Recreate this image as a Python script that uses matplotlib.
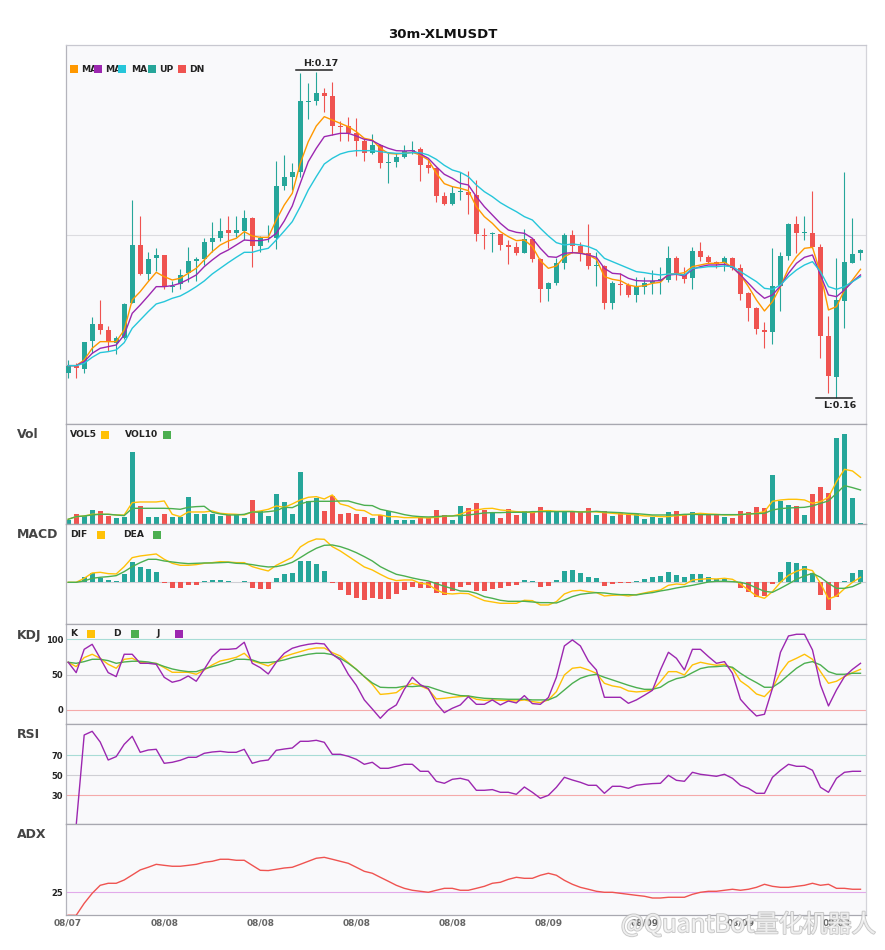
import numpy as np
import matplotlib
matplotlib.use("Agg")
import matplotlib.pyplot as plt
from matplotlib.patches import Rectangle
import matplotlib.patheffects as pe

# ---------------- data (30m candles, XLM/USDT) ----------------
open_ = [16099,16121,16113,16197,16247,16229,16191,16204,16311,16484,
         16397,16446,16454,16359,16367,16399,16437,16442,16493,16505,
         16529,16521,16526,16565,16481,16505,16505,16661,16688,16703,
         16913,16916,16940,16931,16841,16841,16819,16797,16761,16784,
         16730,16733,16748,16766,16772,16724,16715,16631,16607,16643,
         16643,16634,16514,16516,16517,16484,16478,16460,16502,16442,
         16353,16371,16430,16514,16481,16460,16421,16421,16310,16368,
         16364,16334,16359,16370,16376,16379,16445,16397,16385,16466,
         16448,16433,16430,16445,16415,16340,16295,16229,16223,16361,
         16451,16547,16519,16520,16478,16211,16088,16316,16430,16461]
high = [16139,16129,16193,16269,16319,16241,16211,16309,16619,16571,
        16463,16475,16454,16377,16412,16478,16447,16504,16554,16565,
        16571,16571,16589,16569,16511,16544,16736,16754,16730,16999,
        16970,17004,16955,16973,16856,16868,16865,16801,16817,16787,
        16761,16761,16784,16796,16778,16739,16719,16643,16661,16703,
        16706,16679,16535,16523,16517,16499,16493,16532,16504,16445,
        16374,16445,16520,16529,16493,16547,16463,16424,16376,16400,
        16370,16389,16388,16409,16419,16481,16451,16418,16478,16493,
        16454,16436,16451,16449,16427,16343,16297,16253,16475,16463,
        16550,16571,16571,16646,16487,16271,16445,16703,16565,16472]
low = [16086,16086,16101,16159,16217,16167,16156,16201,16309,16394,
       16379,16407,16353,16344,16353,16374,16377,16424,16463,16495,
       16475,16509,16499,16419,16463,16493,16472,16649,16649,16689,
       16862,16904,16883,16814,16797,16797,16751,16736,16757,16715,
       16670,16718,16745,16757,16676,16700,16613,16604,16604,16619,
       16577,16497,16472,16463,16469,16427,16454,16460,16433,16314,
       16317,16365,16412,16460,16436,16412,16361,16293,16293,16333,
       16329,16314,16337,16337,16337,16373,16379,16370,16352,16436,
       16430,16415,16406,16409,16319,16256,16217,16175,16187,16286,
       16439,16460,16499,16475,16145,16040,16025,16235,16430,16439]
close = [16122,16114,16193,16247,16229,16193,16204,16307,16484,16397,
         16442,16454,16357,16362,16394,16436,16441,16493,16505,16526,
         16521,16529,16565,16481,16505,16509,16661,16688,16703,16916,
         16916,16940,16932,16841,16838,16819,16797,16761,16784,16730,
         16733,16748,16766,16769,16724,16715,16631,16607,16640,16646,
         16635,16518,16511,16520,16484,16479,16460,16502,16442,16353,
         16371,16430,16514,16481,16460,16421,16424,16310,16370,16365,
         16334,16361,16370,16376,16382,16445,16400,16382,16466,16448,
         16433,16427,16445,16415,16337,16295,16232,16223,16361,16451,
         16547,16520,16522,16478,16211,16091,16319,16433,16457,16469]
ma5 = [16122,16122,16139,16174,16194,16194,16194,16229,16319,16344,
       16374,16402,16389,16379,16384,16399,16414,16439,16464,16484,
       16496,16504,16524,16511,16507,16507,16559,16604,16639,16729,
       16794,16841,16869,16859,16849,16839,16824,16804,16799,16774,
       16759,16757,16759,16762,16754,16739,16699,16668,16659,16654,
       16647,16599,16569,16549,16524,16509,16497,16499,16479,16437,
       16414,16421,16449,16461,16461,16454,16441,16389,16381,16377,
       16364,16359,16362,16369,16372,16397,16397,16401,16419,16424,
       16429,16429,16432,16417,16394,16359,16319,16286,16314,16359,
       16414,16449,16474,16477,16399,16289,16299,16349,16379,16411]
ma10 = [16122,16122,16134,16159,16174,16179,16184,16214,16279,16304,
        16331,16359,16359,16362,16369,16381,16394,16419,16439,16457,
        16469,16484,16499,16497,16497,16501,16519,16556,16601,16669,
        16734,16774,16809,16814,16819,16819,16811,16801,16797,16784,
        16774,16767,16766,16767,16757,16744,16719,16696,16684,16669,
        16664,16629,16599,16574,16549,16529,16522,16519,16504,16474,
        16449,16447,16459,16461,16459,16454,16447,16414,16399,16397,
        16384,16377,16376,16376,16377,16394,16396,16391,16411,16419,
        16424,16424,16426,16417,16394,16369,16344,16324,16334,16361,
        16399,16429,16447,16454,16394,16334,16329,16349,16374,16394]
ma20 = [16122,16122,16129,16147,16161,16164,16169,16191,16234,16259,
        16284,16307,16314,16324,16331,16344,16359,16376,16397,16414,
        16431,16447,16462,16462,16469,16474,16499,16526,16554,16599,
        16649,16689,16727,16744,16757,16764,16767,16767,16767,16764,
        16761,16759,16759,16761,16761,16754,16741,16723,16709,16702,
        16689,16664,16644,16629,16611,16597,16584,16569,16559,16534,
        16511,16491,16484,16487,16484,16479,16469,16444,16434,16424,
        16414,16404,16401,16397,16394,16397,16397,16394,16414,16416,
        16419,16419,16421,16419,16404,16389,16374,16354,16351,16364,
        16389,16409,16424,16434,16404,16359,16351,16359,16374,16389]
# volume (thousand XLM)
vol = [13,30,25,43,40,25,19,22,217,55,
       22,22,31,22,22,82,31,31,31,25,
       28,31,19,73,40,25,91,67,31,157,
       70,80,40,85,31,34,31,22,19,28,
       40,13,13,13,22,19,43,28,13,55,
       49,64,43,37,19,46,28,40,37,52,
       43,37,37,40,37,49,28,40,25,34,
       31,31,16,22,19,37,40,28,37,31,
       28,31,22,19,40,37,52,49,148,70,
       58,55,28,91,112,94,259,271,79,4]
vol5 = [15,23,25,30,30,30,28,28,65,67,
        67,67,70,30,23,37,37,37,40,33,
        31,30,28,37,40,45,55,51,61,73,
        81,83,76,88,61,55,43,41,28,28,
        23,23,20,20,20,19,21,24,25,30,
        40,43,47,48,43,41,38,37,35,40,
        41,39,39,39,37,39,37,35,33,31,
        30,28,25,25,23,23,26,28,31,33,
        31,30,28,28,29,31,33,38,69,73,
        75,75,73,63,68,81,128,165,160,141]
vol10 = [15,23,25,28,30,30,28,26,48,48,
         48,48,48,47,45,51,53,54,36,31,
         28,28,30,37,36,38,41,51,50,61,
         68,69,69,69,70,70,63,57,56,45,
         40,35,29,25,23,22,23,25,25,26,
         28,31,34,35,35,36,36,36,38,38,
         38,38,38,38,37,37,39,37,36,35,
         33,32,30,28,28,28,28,30,30,29,
         29,29,29,29,29,31,32,33,43,47,
         49,50,51,55,63,70,93,116,110,103]
# MACD (x1e-6)
dif = [0,0,12,28,30,26,25,47,74,79,
       82,85,69,57,51,51,53,57,59,62,
       61,59,59,47,40,34,51,63,75,106,
       121,130,129,107,94,78,62,46,37,24,
       12,5,7,7,-3,-6,-23,-33,-35,-33,
       -34,-45,-55,-59,-63,-63,-63,-54,-55,-68,
       -68,-58,-35,-26,-24,-28,-31,-41,-39,-38,
       -41,-37,-32,-27,-23,-9,-5,-7,7,9,
       11,10,12,9,-5,-23,-41,-48,-28,0,
       21,33,41,35,-3,-50,-41,-19,0,15]
dea = [0,0,4,12,15,17,20,32,47,59,
       69,69,64,61,58,56,57,58,58,59,
       60,57,56,53,49,46,47,52,60,74,
       89,102,111,112,107,99,89,77,64,47,
       35,24,19,13,8,4,-4,-12,-19,-26,
       -27,-33,-43,-48,-54,-57,-57,-57,-59,-61,
       -61,-62,-53,-43,-36,-33,-31,-32,-35,-37,
       -37,-38,-34,-31,-26,-22,-17,-13,-9,-4,
       1,3,3,2,0,-6,-17,-27,-30,-18,
       -5,9,19,27,15,-3,-18,-18,-13,-2]
hist = [0,0,16,28,13,7,3,26,60,46,
        40,31,-2,-16,-16,-7,-7,4,6,6,
        3,0,3,-16,-19,-19,13,25,28,64,
        64,55,34,-2,-22,-37,-46,-52,-46,-49,
        -49,-34,-22,-13,-16,-16,-31,-37,-25,-13,
        -7,-25,-25,-19,-16,-10,-7,6,3,-13,
        -10,6,33,36,27,16,13,-10,-4,-2,
        -2,3,9,16,19,31,22,16,25,25,
        16,9,10,4,-16,-28,-43,-40,-4,31,
        61,58,49,28,-37,-82,-43,4,28,37]
k_line = [67.5,61.3,74.1,78.8,73.1,64.6,59.0,71.7,73.1,67.5,
          66.0,66.0,59.9,53.3,53.3,53.3,50.5,56.6,63.7,69.3,
          71.7,74.5,80.2,69.3,66.0,62.3,68.4,75.5,79.2,82.5,
          85.8,87.7,87.7,81.1,76.4,67.0,57.5,47.2,36.3,22.0,
          23.0,24.5,33.0,37.7,34.0,29.2,15.6,16.5,17.9,18.9,
          19.8,15.1,13.7,14.2,13.7,13.2,12.7,14.2,11.8,10.4,
          14.2,25.9,49.5,59.0,60.4,56.6,51.9,37.7,34.0,32.1,
          26.9,25.5,26.4,28.3,40.1,54.2,54.2,49.5,63.7,67.5,
          65.1,63.2,64.6,59.0,41.0,33.0,22.6,18.9,30.7,52.8,
          67.9,73.1,78.8,71.7,54.2,37.7,40.6,47.2,52.8,57.5]
d_line = [67.5,66.0,68.4,71.7,71.7,69.8,66.0,67.9,68.9,68.9,
          67.9,65.6,61.5,58.0,55.7,54.2,54.2,58.0,61.3,64.6,
          67.5,71.7,71.7,70.8,67.0,67.0,68.4,70.8,74.1,76.4,
          78.8,80.2,80.2,78.3,73.1,66.0,57.5,47.2,38.2,32.1,
          31.6,31.6,33.5,33.0,34.0,33.0,29.2,25.5,22.6,20.3,
          19.8,17.9,16.5,16.0,15.6,15.1,15.1,15.1,14.2,14.2,
          14.2,18.9,28.3,37.7,44.8,48.6,50.5,46.2,42.5,38.7,
          34.9,31.6,29.2,29.2,32.1,39.6,44.3,46.7,52.8,58.5,
          60.8,61.3,62.3,60.4,51.9,44.8,38.7,32.1,32.1,39.6,
          49.5,59.0,66.0,68.4,63.7,54.2,50.5,50.5,51.9,51.9]
j_line = [67.5,52.8,85.8,92.9,73.1,52.8,47.2,78.8,78.8,66.0,
          66.0,64.6,46.2,39.2,42.0,48.1,40.6,57.5,75.5,85.8,
          85.8,86.8,95.8,66.0,59.9,50.9,67.5,80.2,87.3,90.6,
          92.9,94.3,93.4,78.8,70.8,50.5,34.9,14.2,1.4,-11.8,
          0.0,7.1,29.2,46.2,35.8,30.2,9.4,-3.8,2.4,7.1,
          18.9,8.0,8.0,14.2,7.1,12.7,9.9,20.3,9.0,8.0,
          17.5,46.2,90.6,99.1,90.6,69.3,56.6,17.9,17.9,17.9,
          9.4,14.2,20.8,27.8,56.6,81.6,73.1,56.6,85.8,85.8,
          75.5,66.0,68.4,51.9,15.1,2.4,-8.5,-6.1,30.7,81.6,
          104.7,107.1,107.1,84.9,35.4,5.7,28.3,47.2,57.5,66.0]
rsi = [np.nan,0,90.3,94.0,83.3,65.3,68.7,81.0,89.0,73.0,
       75.3,76.0,62.0,63.0,65.0,68.0,68.0,72.0,73.3,74.0,
       73.0,73.0,76.0,62.0,64.3,65.3,75.0,76.3,77.3,84.0,
       84.0,85.0,83.0,71.0,71.0,69.0,66.0,61.0,63.0,57.0,
       57.0,59.0,61.0,61.0,54.0,54.0,44.0,42.0,46.0,47.0,
       45.0,35.0,35.0,35.7,33.0,33.0,31.0,38.3,33.0,27.0,
       30.0,38.0,48.0,45.3,43.0,40.0,40.0,32.0,39.0,39.0,
       37.0,40.0,41.0,41.7,42.0,50.0,45.0,44.0,53.0,51.0,
       50.0,49.0,51.0,47.0,40.0,37.0,32.0,32.0,48.0,55.0,
       61.0,59.0,59.0,55.0,38.0,33.0,47.0,53.0,54.0,54.0]
adx = [0,0,13.0,23.9,32.6,34.8,34.8,38.4,43.8,49.3,
       52.2,55.4,54.3,53.3,53.3,54.3,55.4,57.6,58.7,60.9,
       60.9,59.8,59.8,54.3,48.9,48.6,50.0,51.4,52.2,55.4,
       58.7,62.0,63.0,60.9,58.7,56.5,52.2,47.8,45.7,41.3,
       37.0,32.6,29.3,27.2,26.1,25.0,27.2,29.3,29.3,27.2,
       27.2,29.3,31.5,34.8,35.9,39.1,41.3,40.2,40.2,43.5,
       45.7,43.5,38.0,33.7,30.4,28.3,26.1,25.0,25.0,23.9,
       22.8,21.7,20.7,18.8,18.8,19.6,19.6,19.6,22.8,25.0,
       26.1,26.1,27.2,28.3,27.2,28.3,30.4,33.7,31.5,30.4,
       30.4,31.5,32.6,34.8,32.6,33.7,29.3,29.3,28.3,28.3]
date_labels = ["08/07", "08/08", "08/08", "08/08", "08/08",
               "08/09", "08/09", "08/09", "08/09"]
label_step = 12

# ---------------- style ----------------
UP, DN = "#26a69a", "#ef5350"
C_MA5, C_MA10, C_MA20 = "#ff9800", "#9c27b0", "#26c6da"
C_GOLD, C_GREEN, C_PURPLE = "#ffc107", "#4caf50", "#9c27b0"
BG = "#f9f9fb"
W, H = 885, 950

o = np.array(open_) / 1e5
h = np.array(high) / 1e5
l = np.array(low) / 1e5
c = np.array(close) / 1e5
N = len(o)
x = np.arange(N)
colors = np.where(c >= o, UP, DN)

fig = plt.figure(figsize=(W / 100, H / 100), dpi=100)
fig.patch.set_facecolor("white")

def fx(px):
    return px / W

def fy(py):
    return 1 - py / H

LEFT, RIGHT = 65.7, 865.7

def make_ax(top, bot, top_spine="#c8c8d0"):
    ax = fig.add_axes([fx(LEFT), fy(bot), (RIGHT - LEFT) / W, (bot - top) / H])
    ax.set_facecolor(BG)
    ax.set_xlim(-0.31, 99.65)
    ax.set_xticks([])
    ax.set_yticks([])
    ax.spines["left"].set_color("#b4b4bc")
    ax.spines["bottom"].set_color("#a8a8b0")
    ax.spines["top"].set_color(top_spine)
    ax.spines["right"].set_color("#d4d4da")
    for s in ax.spines.values():
        s.set_linewidth(0.9)
    return ax

ax_p = make_ax(45, 424.3)
ax_v = make_ax(424.3, 524.3, "#a8a8b0")
ax_m = make_ax(524.3, 624.3, "#a8a8b0")
ax_k = make_ax(624.3, 724.3, "#a8a8b0")
ax_r = make_ax(724.3, 824.3, "#a8a8b0")
ax_a = make_ax(824.3, 915.3, "#a8a8b0")

# ---------------- price ----------------
ax_p.set_ylim(0.15946, 0.17084)
ax_p.axhline((0.15946 + 0.17084) / 2, color="#dcdce0", lw=0.8, zorder=0)
ax_p.vlines(x, l, h, colors=colors, lw=0.8, zorder=2)
body = np.maximum(np.abs(c - o), 3e-5)
ax_p.bar(x, body, bottom=np.minimum(o, c), width=0.62, color=colors, zorder=3)
ax_p.plot(x, np.array(ma5) / 1e5, color=C_MA5, lw=1.0, zorder=4)
ax_p.plot(x, np.array(ma10) / 1e5, color=C_MA10, lw=1.0, zorder=4)
ax_p.plot(x, np.array(ma20) / 1e5, color=C_MA20, lw=1.0, zorder=4)

ih, il = int(np.argmax(h)), int(np.argmin(l))
yh = h[ih] + 6e-5
ax_p.plot([ih - 2.52, ih + 1.97], [yh, yh], color="#222222", lw=1.1, zorder=5)
ax_p.annotate(f"H:{h[ih]:.2f}", xy=(ih + 0.54, yh), xytext=(0, 1.5),
              textcoords="offset points", ha="center", va="bottom",
              fontsize=6.8, fontweight="bold", color="#222222")
yl = l[il]
ax_p.plot([il - 2.55, il + 1.91], [yl, yl], color="#222222", lw=1.1, zorder=5)
ax_p.annotate(f"L:{l[il]:.2f}", xy=(il + 0.39, yl), xytext=(0, -2.5),
              textcoords="offset points", ha="center", va="top",
              fontsize=6.8, fontweight="bold", color="#222222")

# ---------------- volume ----------------
ax_v.set_ylim(0, 300)
ax_v.bar(x, vol, width=0.62, color=colors, zorder=2)
ax_v.plot(x, vol5, color=C_GOLD, lw=1.0, zorder=3)
ax_v.plot(x, vol10, color=C_GREEN, lw=1.0, zorder=3)

# ---------------- MACD ----------------
hist_a = np.array(hist) * 1e-6
ax_m.set_ylim(-126e-6, 174e-6)
ax_m.axhline(0, color="#cfcfd4", lw=0.8, zorder=0)
ax_m.bar(x, hist_a, width=0.62, color=np.where(hist_a >= 0, UP, DN), zorder=2)
ax_m.plot(x, np.array(dif) * 1e-6, color=C_GOLD, lw=1.0, zorder=3)
ax_m.plot(x, np.array(dea) * 1e-6, color=C_GREEN, lw=1.0, zorder=3)

# ---------------- KDJ ----------------
ax_k.set_ylim(-20.3, 121.2)
ax_k.axhline(100, color="#a8dcd6", lw=0.8, zorder=0)
ax_k.axhline(50, color="#cfcfd4", lw=0.8, zorder=0)
ax_k.axhline(0, color="#f5aaaa", lw=0.8, zorder=0)
ax_k.plot(x, k_line, color=C_GOLD, lw=1.0, zorder=3)
ax_k.plot(x, d_line, color=C_GREEN, lw=1.0, zorder=3)
ax_k.plot(x, j_line, color=C_PURPLE, lw=1.0, zorder=3)

# ---------------- RSI ----------------
ax_r.set_ylim(1, 101)
ax_r.axhline(70, color="#a8dcd6", lw=0.8, zorder=0)
ax_r.axhline(50, color="#cfcfd4", lw=0.8, zorder=0)
ax_r.axhline(30, color="#f5aaaa", lw=0.8, zorder=0)
ax_r.plot(x, rsi, color=C_PURPLE, lw=1.0, zorder=3)

# ---------------- ADX ----------------
ax_a.set_ylim(0, 98.9)
ax_a.axhline(25, color="#e2aaea", lw=0.8, zorder=0)
ax_a.plot(x, adx, color=DN, lw=1.0, zorder=3)

# y tick labels
for ax, ticks in ((ax_k, [0, 50, 100]), (ax_r, [30, 50, 70]), (ax_a, [25])):
    ax.set_yticks(ticks)
    ax.set_yticklabels([str(t) for t in ticks])
    ax.tick_params(axis="y", length=0, pad=1.8, labelsize=6, labelcolor="#222222")
    for t in ax.get_yticklabels():
        t.set_fontweight("bold")

# x tick labels
ax_a.set_xticks(np.arange(0, N, label_step))
ax_a.set_xticklabels(date_labels)
ax_a.tick_params(axis="x", length=0, pad=2.5, labelsize=6.5, labelcolor="#666666")
for t in ax_a.get_xticklabels():
    t.set_fontweight("bold")

# ---------------- texts / legends ----------------
fig.text(fx(443), fy(34), "30m-XLMUSDT", ha="center", va="center",
         fontsize=9.5, fontweight="bold", color="#111111")
for name, yy in (("Vol", 435), ("MACD", 535), ("KDJ", 635), ("RSI", 735), ("ADX", 835)):
    fig.text(fx(17), fy(yy), name, ha="left", va="center", fontsize=9,
             fontweight="bold", color="#444444")

def square(x0, yc, color, size=8):
    fig.add_artist(Rectangle((fx(x0), fy(yc + size / 2)), size / W, size / H,
                             transform=fig.transFigure, facecolor=color,
                             edgecolor="none", zorder=6))

def label(x0, yc, s, fs=6.6):
    fig.text(fx(x0), fy(yc), s, ha="left", va="center", fontsize=fs,
             fontweight="bold", color="#222222", zorder=5)

# price legend
for sx, col, tx, s in ((70, C_MA5, 81, "MA"), (94, C_MA10, 105, "MA"),
                       (118, C_MA20, 131, "MA"), (148, UP, 159, "UP"),
                       (178, DN, 189, "DN")):
    square(sx, 69, col)
    label(tx, 69, s)
# vol legend
label(70, 434.5, "VOL5"); square(100.7, 434.5, C_GOLD)
label(125, 434.5, "VOL10"); square(163.3, 434.5, C_GREEN)
# macd legend
label(70, 534.5, "DIF"); square(97.3, 534.5, C_GOLD)
label(123.3, 534.5, "DEA"); square(153, 534.5, C_GREEN)
# kdj legend
label(70, 633.5, "K"); square(87.3, 633.5, C_GOLD)
label(113, 633.5, "D"); square(131, 633.5, C_GREEN)
label(156.7, 633.5, "J"); square(175, 633.5, C_PURPLE)

# watermark (semi-transparent hollow text over the bottom-right corner)
fig.text(fx(621), fy(925), "@QuantBot量化机器人", ha="left", va="center",
         fontsize=17.5, color=(1, 1, 1, 0.45), zorder=7,
         family=["Noto Sans CJK SC", "DejaVu Sans"],
         path_effects=[pe.withStroke(linewidth=1.4, foreground=(0.72, 0.72, 0.72, 0.75)),
                       pe.Normal()])

fig.savefig("out.png", dpi=100, facecolor="white")
